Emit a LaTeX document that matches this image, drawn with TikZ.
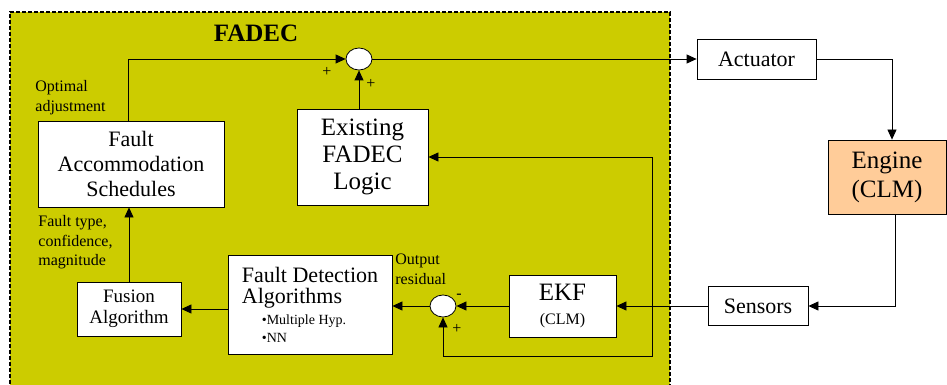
\documentclass[tikz,border=0pt]{standalone}
\usepackage{fontspec}
\setmainfont{Liberation Serif}
\usetikzlibrary{arrows.meta,positioning,shapes.geometric}
\definecolor{fadecfill}{RGB}{204,204,0}
\definecolor{enginefill}{RGB}{255,204,153}

\begin{document}
\begin{tikzpicture}[
    x=1pt, y=-1pt,
    line width=0.8pt,
    box/.style={draw, fill=white, align=center, inner sep=0pt},
    sum/.style={draw, fill=white, ellipse, minimum width=26pt, minimum height=22pt, inner sep=0pt},
    lbl/.style={align=left, inner sep=0pt, anchor=north west, font=\fontsize{16}{19.5}\selectfont},
    sgn/.style={inner sep=0pt, font=\fontsize{16}{16}\selectfont},
    arr/.style={-{Triangle[length=10pt, width=9pt]}}]
  \useasboundingbox (0,0) rectangle (947,385);
  \fill[fadecfill] (10,12) rectangle (670,390);
  \draw[line width=2pt, dash pattern=on 4pt off 2pt] (10,390) -- (10,12) -- (670,12) -- (670,390);
  \node[font=\bfseries\fontsize{25}{25}\selectfont] (title) at (256,33) {FADEC};
  \node[box, minimum width=186pt, minimum height=86pt, font=\fontsize{22}{25}\selectfont] (sched) at (131,164) {Fault\\Accommodation\\Schedules};
  \node[box, minimum width=131pt, minimum height=96pt, font=\fontsize{25}{27}\selectfont] (logic) at (362.5,157) {Existing\\FADEC\\Logic};
  \node[sum] (sumtop) at (359,59) {};
  \node[box, minimum width=119pt, minimum height=40pt, font=\fontsize{22}{25}\selectfont] (act) at (756.5,59) {Actuator};
  \node[box, fill=enginefill, minimum width=118pt, minimum height=74pt, font=\fontsize{25}{29}\selectfont] (engine) at (887,177) {Engine\\(CLM)};
  \node[box, minimum width=100pt, minimum height=39pt, font=\fontsize{22}{25}\selectfont] (sens) at (758,306) {Sensors};
  \node[box, minimum width=107pt, minimum height=62pt, font=\fontsize{25}{24}\selectfont] (ekf) at (562.5,306) {EKF\\{\fontsize{16}{24}\selectfont (CLM)}};
  \node[sum] (sumres) at (443,306) {};
  \node[box, minimum width=164pt, minimum height=99pt, align=left, font=\fontsize{22}{23}\selectfont] (detect) at (310,304.5)
    {Fault Detection\\[-2pt]Algorithms\\[-2pt]{\fontsize{14}{14}\selectfont\hspace*{20pt}•Multiple Hyp.}\\[-5pt]{\fontsize{14}{14}\selectfont\hspace*{20pt}•NN}};
  \node[box, minimum width=104pt, minimum height=54pt, font=\fontsize{19}{21}\selectfont] (fusion) at (129,309) {Fusion\\Algorithm};
  \coordinate (tap) at (652,306);
  \coordinate (low) at (652,356);
  \draw[arr] ([xshift=-3pt]sched.north) |- (sumtop.west);
  \draw[arr] (logic.north -| sumtop.south) -- (sumtop.south);
  \draw[arr] (sumtop.east) -- (act.west);
  \draw[arr] (act.east) -| ([xshift=5pt]engine.north);
  \draw[arr] ([xshift=8pt]engine.south) |- (sens.east);
  \draw[arr] (sens.west) -- (ekf.east);
  \draw[arr] (tap) |- (logic.east);
  \draw[arr] (tap) -- (low) -| (sumres.south);
  \draw[arr] (ekf.west) -- (sumres.east);
  \draw[arr] (sumres.west) -- (sumres.west -| detect.east);
  \draw[arr] (detect.west |- fusion.east) -- (fusion.east);
  \draw[arr] (fusion.north) -- (fusion.north |- sched.south);
  \node[lbl] (optlbl) at (35,80) {Optimal\\adjustment};
  \node[lbl] (typelbl) at (38,215) {Fault type,\\confidence,\\magnitude};
  \node[lbl] (reslbl) at (395,254) {Output\\residual};
  \node[sgn] (plusa) at (327,72) {+};
  \node[sgn] (plusb) at (371,84) {+};
  \node[sgn] (minus) at (459,296) {-};
  \node[sgn] (plusc) at (457,329) {+};
\end{tikzpicture}
\end{document}
